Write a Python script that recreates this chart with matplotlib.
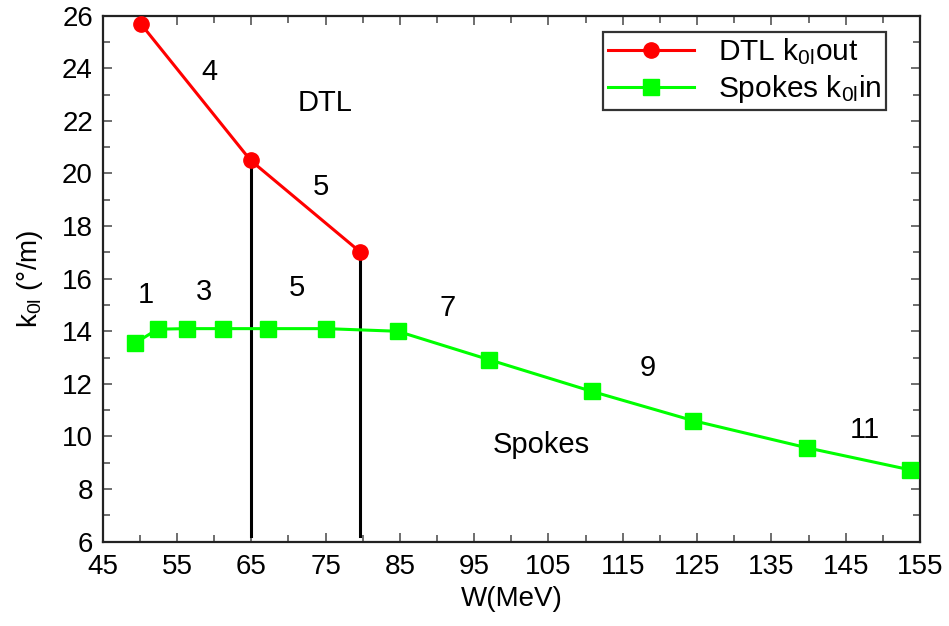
import matplotlib
matplotlib.use("Agg")
import matplotlib.pyplot as plt
from matplotlib.ticker import MultipleLocator

plt.rcParams['font.family'] = ['Liberation Sans', 'DejaVu Sans']
plt.rcParams['mathtext.fontset'] = 'custom'
plt.rcParams['mathtext.rm'] = 'Liberation Sans'
plt.rcParams['mathtext.it'] = 'Liberation Sans'

# Data
dtl_w = [50.1, 64.9, 79.6]
dtl_k = [25.7, 20.5, 17.03]
spk_w = [49.3, 52.4, 56.3, 61.2, 67.3, 75.1, 84.7, 97.0, 110.9, 124.5, 139.8, 153.7]
spk_k = [13.54, 14.08, 14.1, 14.1, 14.1, 14.1, 14.0, 12.92, 11.71, 10.6, 9.57, 8.73]
vline_w = [64.9, 79.6]
vline_top = [20.5, 17.03]
vline_bottom = 6.2

labels = ["4", "DTL", "5", "1", "3", "5", "7", "9", "Spokes", "11"]
label_x = [59.4, 74.9, 74.4, 50.8, 58.6, 71.1, 91.4, 118.3, 104.0, 147.6]
label_y = [23.86, 22.68, 19.49, 15.38, 15.49, 15.64, 14.87, 12.59, 9.68, 10.25]

xticks = list(range(45, 156, 10))
yticks = list(range(6, 27, 2))

fig = plt.figure(figsize=(9.49, 6.26), dpi=100)
ax = fig.add_axes([0.1082, 0.1347, 0.9694 - 0.1082, 0.975 - 0.1347])

for x, top in zip(vline_w, vline_top):
    ax.plot([x, x], [vline_bottom, top], color='black', lw=2.2, zorder=2)

ax.plot(dtl_w, dtl_k, color='#ff0000', lw=2.2, marker='o', markersize=11,
        label=r'DTL k$_{0l}$out', zorder=3)
ax.plot(spk_w, spk_k, color='#00ff00', lw=2.2, marker='s', markersize=11.5,
        label=r'Spokes k$_{0l}$in', zorder=3)

for t, x, y in zip(labels, label_x, label_y):
    ax.text(x, y, t, fontsize=21, ha='center', va='center')

ax.set_xlim(45, 155)
ax.set_ylim(6, 26)
ax.set_xticks(xticks)
ax.set_yticks(yticks)
ax.xaxis.set_minor_locator(MultipleLocator(5))
ax.yaxis.set_minor_locator(MultipleLocator(1))
ax.tick_params(which='both', direction='in', top=True, right=True,
               labelsize=20, color='#555555')
ax.tick_params(axis='x', which='major', pad=9)
ax.tick_params(axis='y', which='major', pad=7)
ax.tick_params(which='major', length=6.5, width=1.2)
ax.tick_params(which='minor', length=5, width=1.2)
for s in ax.spines.values():
    s.set_linewidth(1.6)
    s.set_color('#222222')

ax.set_xlabel('W(MeV)', fontsize=20, labelpad=4)
ax.set_ylabel(r'k$_{0l}$ (°/m)', fontsize=20, labelpad=12)

leg = ax.legend(loc='upper right', fontsize=21.5, frameon=True, fancybox=False,
                edgecolor='black', borderpad=0.15, handlelength=2.9,
                handletextpad=0.8, borderaxespad=0,
                bbox_to_anchor=(0.9587, 0.969), labelspacing=0.2)
leg.get_frame().set_linewidth(1.6)

fig.savefig('out.png', dpi=100)
